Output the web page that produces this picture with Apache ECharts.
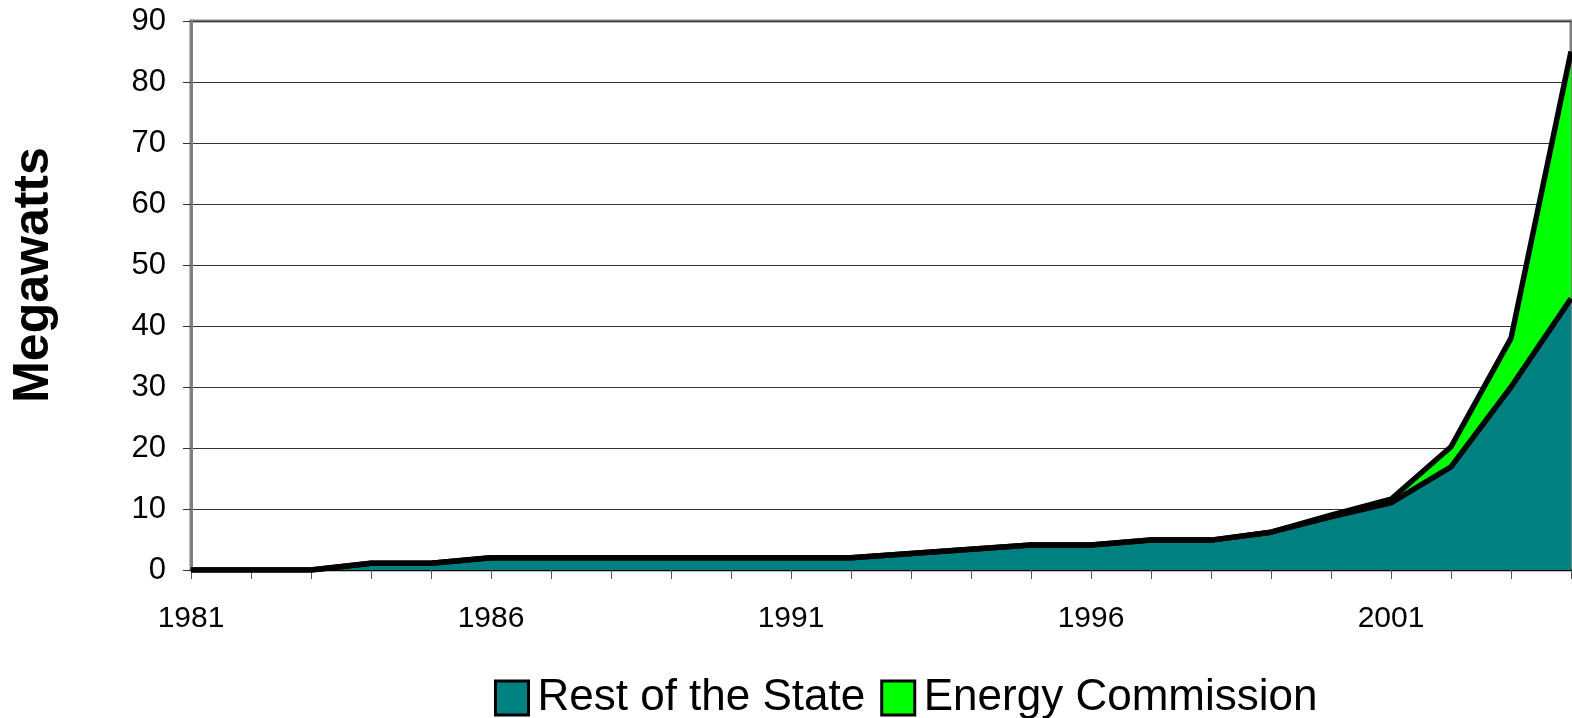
<!DOCTYPE html>
<html>
<head>
<meta charset="utf-8">
<script src="https://cdn.jsdelivr.net/npm/echarts@6/dist/echarts.min.js"></script>
<style>
  html, body { margin: 0; padding: 0; background: #fff; }
  #chart { width: 1572px; height: 718px; }
</style>
</head>
<body>
<div id="chart"></div>
<script>
// years on the x axis
var years = [];
for (var y = 1981; y <= 2004; y++) years.push(String(y));

// Megawatts
var restOfState = [0, 0, 0, 1.1, 1.1, 2, 2, 2, 2, 2, 2, 2,
  2.7, 3.4, 4.1, 4.1, 4.9, 4.9, 6.2, 8.7, 11, 16.9, 30, 44.5];
var energyCommission = [0, 0, 0, 0, 0, 0, 0, 0, 0, 0, 0, 0,
  0, 0, 0, 0, 0, 0, 0, 0.3, 0.6, 3.3, 8, 40.5];

var yTicks = { min: 0, max: 90, interval: 10 };

var font = "'Liberation Sans', Arial, sans-serif";

var chart = echarts.init(document.getElementById("chart"));

var option = {
  animation: false,
  grid: {
    left: 191,
    top: 21,
    right: 1,
    bottom: 148,
    containLabel: false,
    outerBoundsMode: "none",
    show: true,
    borderColor: "#808080",
    borderWidth: 3
  },
  // y axis title sits a bit above the plot middle in the original
  graphic: [{
    type: "text",
    x: 34,
    y: 275,
    rotation: Math.PI / 2,
    style: {
      text: "Megawatts",
      fontFamily: font,
      fontSize: 50,
      fontWeight: "bold",
      fill: "#000",
      align: "center",
      verticalAlign: "middle"
    }
  }],
  legend: {
    data: ["Rest of the State", "Energy Commission"],
    left: 489,
    top: 671,
    icon: "rect",
    itemWidth: 33,
    itemHeight: 34,
    itemGap: 15,
    textStyle: { fontFamily: font, fontSize: 44, color: "#000", padding: [0, 0, 0, 4] },
    itemStyle: { borderColor: "#000", borderWidth: 3 }
  },
  xAxis: {
    type: "category",
    data: years,
    boundaryGap: false,
    axisLine: { lineStyle: { color: "#000", width: 2 } },
    axisTick: { interval: 0, length: 9, lineStyle: { color: "#555", width: 1 } },
    axisLabel: {
      interval: 4,
      margin: 34,
      fontFamily: font,
      fontSize: 30,
      color: "#000"
    },
    splitLine: { show: false }
  },
  yAxis: {
    type: "value",
    min: yTicks.min,
    max: yTicks.max,
    interval: yTicks.interval,
    axisLine: { show: true, lineStyle: { color: "#808080", width: 3 } },
    axisTick: { show: true, length: 8, lineStyle: { color: "#333", width: 1 } },
    axisLabel: { margin: 25, fontFamily: font, fontSize: 31, color: "#000" },
    splitLine: { lineStyle: { color: "#333", width: 1 } }
  },
  series: [
    {
      name: "Rest of the State",
      type: "line",
      stack: "total",
      data: restOfState,
      symbol: "none",
      itemStyle: { color: "#008080" },
      lineStyle: { color: "#000", width: 5.5 },
      areaStyle: { color: "#008080", opacity: 1 }
    },
    {
      name: "Energy Commission",
      type: "line",
      stack: "total",
      data: energyCommission,
      symbol: "none",
      itemStyle: { color: "#00ff00" },
      lineStyle: { color: "#000", width: 5.5 },
      areaStyle: { color: "#00ff00", opacity: 1 }
    }
  ]
};

chart.setOption(option);
</script>
</body>
</html>
